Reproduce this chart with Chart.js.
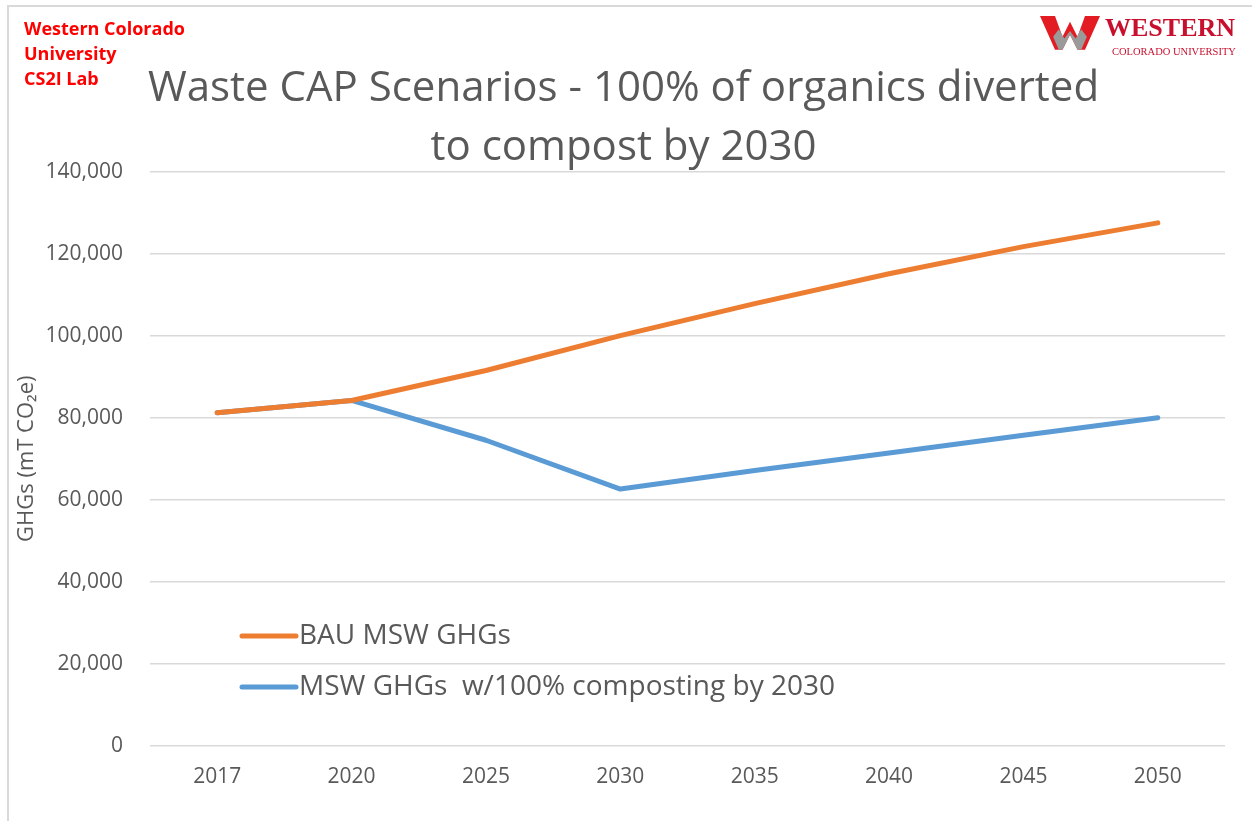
<!DOCTYPE html>
<html>
<head>
<meta charset="utf-8">
<script src="https://cdn.jsdelivr.net/npm/chart.js@4.4.1/dist/chart.umd.min.js"></script>
<style>
  html, body { margin: 0; padding: 0; background: #fff; }
  #wrap { position: relative; width: 1252px; height: 821px; overflow: hidden; }
  #frame { position: absolute; left: 7px; top: 5px; width: 1300px; height: 900px;
           border-left: 2px solid #d9d9d9; border-top: 2px solid #d9d9d9; }
  #priceGraph { position: absolute; left: 0; top: 0; }
  #lab { position: absolute; left: 24px; top: 16px; color: #ff0000; font: bold 18px "Open Sans", sans-serif; line-height: 25px; }
  #logo { position: absolute; left: 1040px; top: 12px; }
  #logo .w1 { position: absolute; left: 65px; top: 1px; font: bold 26px "Liberation Serif", serif; color: #c8102e; white-space: nowrap; }
  #logo .w2 { position: absolute; left: 72px; top: 34px; font: 10.5px "Liberation Serif", serif; color: #c8102e; white-space: nowrap; }
</style>
</head>
<body>
<div id="wrap">
  <div id="frame"></div>
  <canvas id="priceGraph" width="1252" height="821"></canvas>
  <div id="lab">Western Colorado<br>University<br>CS2I Lab</div>
  <div id="logo">
    <svg width="60" height="40" viewBox="0 0 64 42">
      <polygon points="0,4 16,4 24,26 32,10 40,26 48,4 64,4 48,40 40,40 32,24 24,40 16,40" fill="#e31b23"/>
      <polygon points="14,26 20,18 26,28 32,20 38,28 44,18 50,26 44,40 40,40 32,24 24,40 20,40" fill="#9a9a9a"/>
    </svg>
    <div class="w1">WESTERN</div>
    <div class="w2">COLORADO UNIVERSITY</div>
  </div>
</div>
<script>
const years = ['2017', '2020', '2025', '2030', '2035', '2040', '2045', '2050'];
const bauGhg = [81200, 84200, 91500, 100000, 107800, 115100, 121700, 127500];
const compostGhg = [81200, 84200, 74500, 62600, 67100, 71400, 75700, 80000];
const seriesNames = ['BAU MSW GHGs', 'MSW GHGs  w/100% composting by 2030'];
const seriesColors = ['#ED7D31', '#5B9BD5'];

const textColor = '#595959';
const fontName = 'Open Sans';

// legend drawn inside the plot, bottom left
const insideLegend = {
    id: 'insideLegend',
    afterDatasetsDraw(chart) {
        const ctx = chart.ctx;
        const rows = [636, 687];
        ctx.save();
        chart.data.datasets.forEach((ds, i) => {
            const y = rows[i];
            ctx.strokeStyle = ds.borderColor;
            ctx.lineWidth = 5;
            ctx.lineCap = 'round';
            ctx.beginPath();
            ctx.moveTo(242, y);
            ctx.lineTo(296, y);
            ctx.stroke();
            ctx.fillStyle = textColor;
            ctx.font = '28px "' + fontName + '"';
            ctx.textBaseline = 'middle';
            ctx.fillText(ds.label, 299, y);
        });
        ctx.restore();
    }
};

const datasets = [bauGhg, compostGhg].map((vals, i) => {
    return {
        label: seriesNames[i],
        data: vals,
        fill: false,
        borderColor: seriesColors[i],
        backgroundColor: seriesColors[i],
        borderWidth: 5,
        borderCapStyle: 'round',
        borderJoinStyle: 'round',
        pointRadius: 0,
        tension: 0
    }
});

const ctx = document.getElementById('priceGraph').getContext('2d');
const chart = new Chart(ctx, {
    type: 'line',
    data: {
        labels: years,
        datasets: datasets
    },
    plugins: [insideLegend],
    options: {
        responsive: false,
        animation: false,
        layout: { padding: { top: 60, left: 22, right: 27, bottom: 20 } },
        plugins: {
            legend: { display: false },
            tooltip: { enabled: false },
            title: {
                display: true,
                text: ['Waste CAP Scenarios - 100% of organics diverted', 'to compost by 2030'],
                color: textColor,
                font: { family: fontName, size: 42, weight: 'normal', lineHeight: 1.4 },
                padding: { top: 0, bottom: -6 }
            }
        },
        scales: {
            x: {
                offset: true,
                grid: { display: false },
                border: { display: false },
                ticks: { color: textColor, font: { family: fontName, size: 21 }, padding: 11, maxRotation: 0 }
            },
            y: {
                min: 0,
                max: 140000,
                afterFit(scale) { scale.width = 128; },
                grid: { color: '#d9d9d9', lineWidth: 1.5, drawTicks: false },
                border: { display: false },
                ticks: {
                    stepSize: 20000,
                    color: textColor,
                    font: { family: fontName, size: 21 },
                    padding: 27,
                    callback: v => v.toLocaleString('en-US')
                },
                title: {
                    display: true,
                    text: 'GHGs (mT CO\u2082e)',
                    color: textColor,
                    font: { family: fontName, size: 22 },
                    padding: { top: -8, bottom: 0 }
                }
            }
        }
    }
});
</script>
</body>
</html>
